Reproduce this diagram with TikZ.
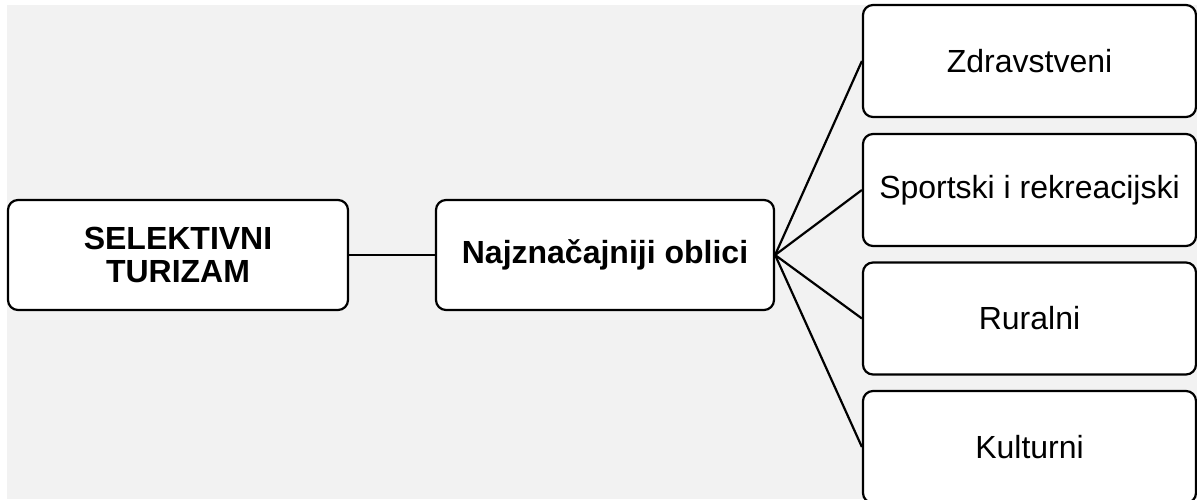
\documentclass[tikz,border=0pt]{standalone}
\usepackage{fontspec}
\setmainfont{Liberation Sans}
\definecolor{bgray}{HTML}{F2F2F2}
\begin{document}
\begin{tikzpicture}[x=1pt,y=-1pt,
  box/.style={draw=black, fill=white, line width=2.2pt, rounded corners=10pt, inner sep=0pt, align=center},
  mainbox/.style={box, minimum width=340pt, minimum height=110pt, font=\fontsize{32}{33}\selectfont\bfseries},
  leafbox/.style={box, minimum width=333pt, minimum height=112pt, font=\fontsize{32}{34}\selectfont},
  conn/.style={draw=black, line width=2.2pt}]
\useasboundingbox (0,0) rectangle (1197,499);
\fill[bgray] (7,5) rectangle (1197,499);
\node[mainbox] (sel) at (178,255) {SELEKTIVNI\\TURIZAM};
\node[mainbox, minimum width=338pt] (naj) at (605,255) {Najznačajniji oblici};
\node[leafbox] (zdr) at (1029.5,61) {Zdravstveni};
\node[leafbox] (spo) at (1029.5,190) {Sportski i rekreacijski};
\node[leafbox] (rur) at (1029.5,318.5) {Ruralni};
\node[leafbox] (kul) at (1029.5,447) {Kulturni};
\draw[conn] (sel.east) -- (naj.west);
\draw[conn] (naj.east) -- (zdr.west);
\draw[conn] (naj.east) -- (spo.west);
\draw[conn] (naj.east) -- (rur.west);
\draw[conn] (naj.east) -- (kul.west);
\end{tikzpicture}
\end{document}
